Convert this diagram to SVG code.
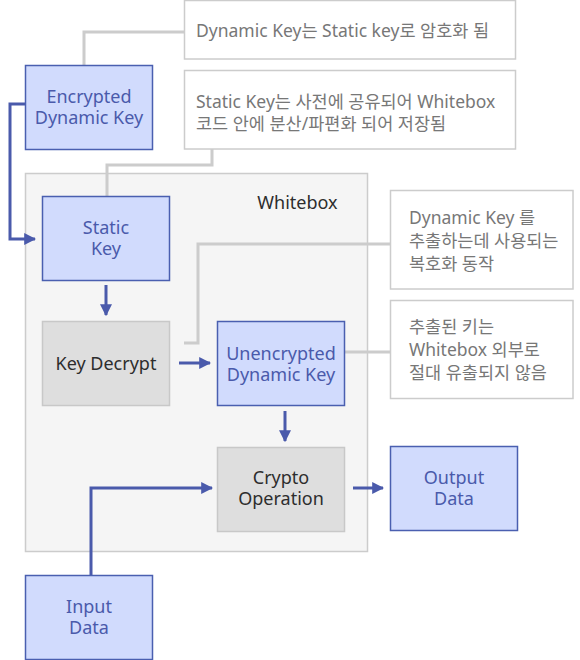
<svg xmlns="http://www.w3.org/2000/svg" width="580" height="660" viewBox="0 0 580 660">
<style>
text{font-family:"Noto Sans","Noto Sans CJK KR",sans-serif;dominant-baseline:central}
.blue rect{fill:#d1dbfd;stroke:#4a5fb0;stroke-width:1.5}
.blue text{fill:#4a5aab;font-size:18px;text-anchor:middle}
.gray rect{fill:#dedede;stroke:#c8c8c8;stroke-width:1.5}
.gray text{fill:#2d2d2d;font-size:18px;text-anchor:middle}
.note rect{fill:#fff;stroke:#cccccc;stroke-width:1.5}
.note text{fill:#777;font-size:17.5px}
.gc{fill:none;stroke:#cccccc;stroke-width:3}
.bc{fill:none;stroke:#4a5aab;stroke-width:3}
</style>
<defs>
<marker id="ah" viewBox="0 0 10 10" refX="9" refY="5" markerWidth="4" markerHeight="4" markerUnits="strokeWidth" orient="auto">
<path d="M0,0 L10,5 L0,10 z" fill="#4a5aab"/>
</marker>
</defs>
<g id="whitebox">
<rect x="25.5" y="173.5" width="342" height="378" fill="#f5f5f5" stroke="#cccccc" stroke-width="1.5"/>
<text x="297.5" y="202" font-size="18" fill="#2d2d2d" text-anchor="middle">Whitebox</text>
</g>
<g id="connectors">
<polyline class="gc" points="84,65 84,32 184,32"/>
<polyline class="gc" points="212,149 212,165 107,165 107,196"/>
<polyline class="gc" points="390,244 198,244 198,343 184,343"/>
<polyline class="gc" points="344,352 390,352"/>
<polyline class="bc" points="25,104 10,104 10,239 35,239" marker-end="url(#ah)"/>
<polyline class="bc" points="106,285 106,315" marker-end="url(#ah)"/>
<polyline class="bc" points="179,363 210,363" marker-end="url(#ah)"/>
<polyline class="bc" points="285,411 285,441" marker-end="url(#ah)"/>
<polyline class="bc" points="353,488 383,488" marker-end="url(#ah)"/>
<polyline class="bc" points="91,575 91,488 212,488" marker-end="url(#ah)"/>
</g>
<g id="note1" class="note">
<rect x="184.5" y="0.5" width="331" height="58.5"/>
<text x="196" y="30">Dynamic Key는 Static key로 암호화 됨</text>
</g>
<g id="note2" class="note">
<rect x="184.5" y="70.5" width="331" height="78.5"/>
<text x="196" y="101">Static Key는 사전에 공유되어 Whitebox</text>
<text x="196" y="123">코드 안에 분산/파편화 되어 저장됨</text>
</g>
<g id="note3" class="note">
<rect x="390.5" y="190.5" width="182.5" height="98.5"/>
<text x="409" y="217">Dynamic Key 를</text>
<text x="409" y="240">추출하는데 사용되는</text>
<text x="409" y="263">복호화 동작</text>
</g>
<g id="note4" class="note">
<rect x="390.5" y="300.5" width="182.5" height="98"/>
<text x="409" y="326">추출된 키는</text>
<text x="409" y="349">Whitebox 외부로</text>
<text x="409" y="372">절대 유출되지 않음</text>
</g>
<g id="encrypted" class="blue">
<rect x="25.5" y="65.5" width="127" height="84"/>
<text x="89" y="96">Encrypted</text>
<text x="89" y="117">Dynamic Key</text>
</g>
<g id="statickey" class="blue">
<rect x="42.5" y="196.5" width="127" height="84"/>
<text x="106" y="227">Static</text>
<text x="106" y="248">Key</text>
</g>
<g id="keydecrypt" class="gray">
<rect x="42.5" y="321.5" width="127" height="84"/>
<text x="106" y="363">Key Decrypt</text>
</g>
<g id="unencrypted" class="blue">
<rect x="217.5" y="321.5" width="127" height="84"/>
<text x="281" y="353">Unencrypted</text>
<text x="281" y="374">Dynamic Key</text>
</g>
<g id="crypto" class="gray">
<rect x="217.5" y="447.5" width="127" height="84"/>
<text x="281" y="477">Crypto</text>
<text x="281" y="498">Operation</text>
</g>
<g id="output" class="blue">
<rect x="390.5" y="446.5" width="127" height="84"/>
<text x="454" y="477">Output</text>
<text x="454" y="498">Data</text>
</g>
<g id="input" class="blue">
<rect x="25.5" y="575.5" width="127" height="84"/>
<text x="89" y="606">Input</text>
<text x="89" y="627">Data</text>
</g>
</svg>
